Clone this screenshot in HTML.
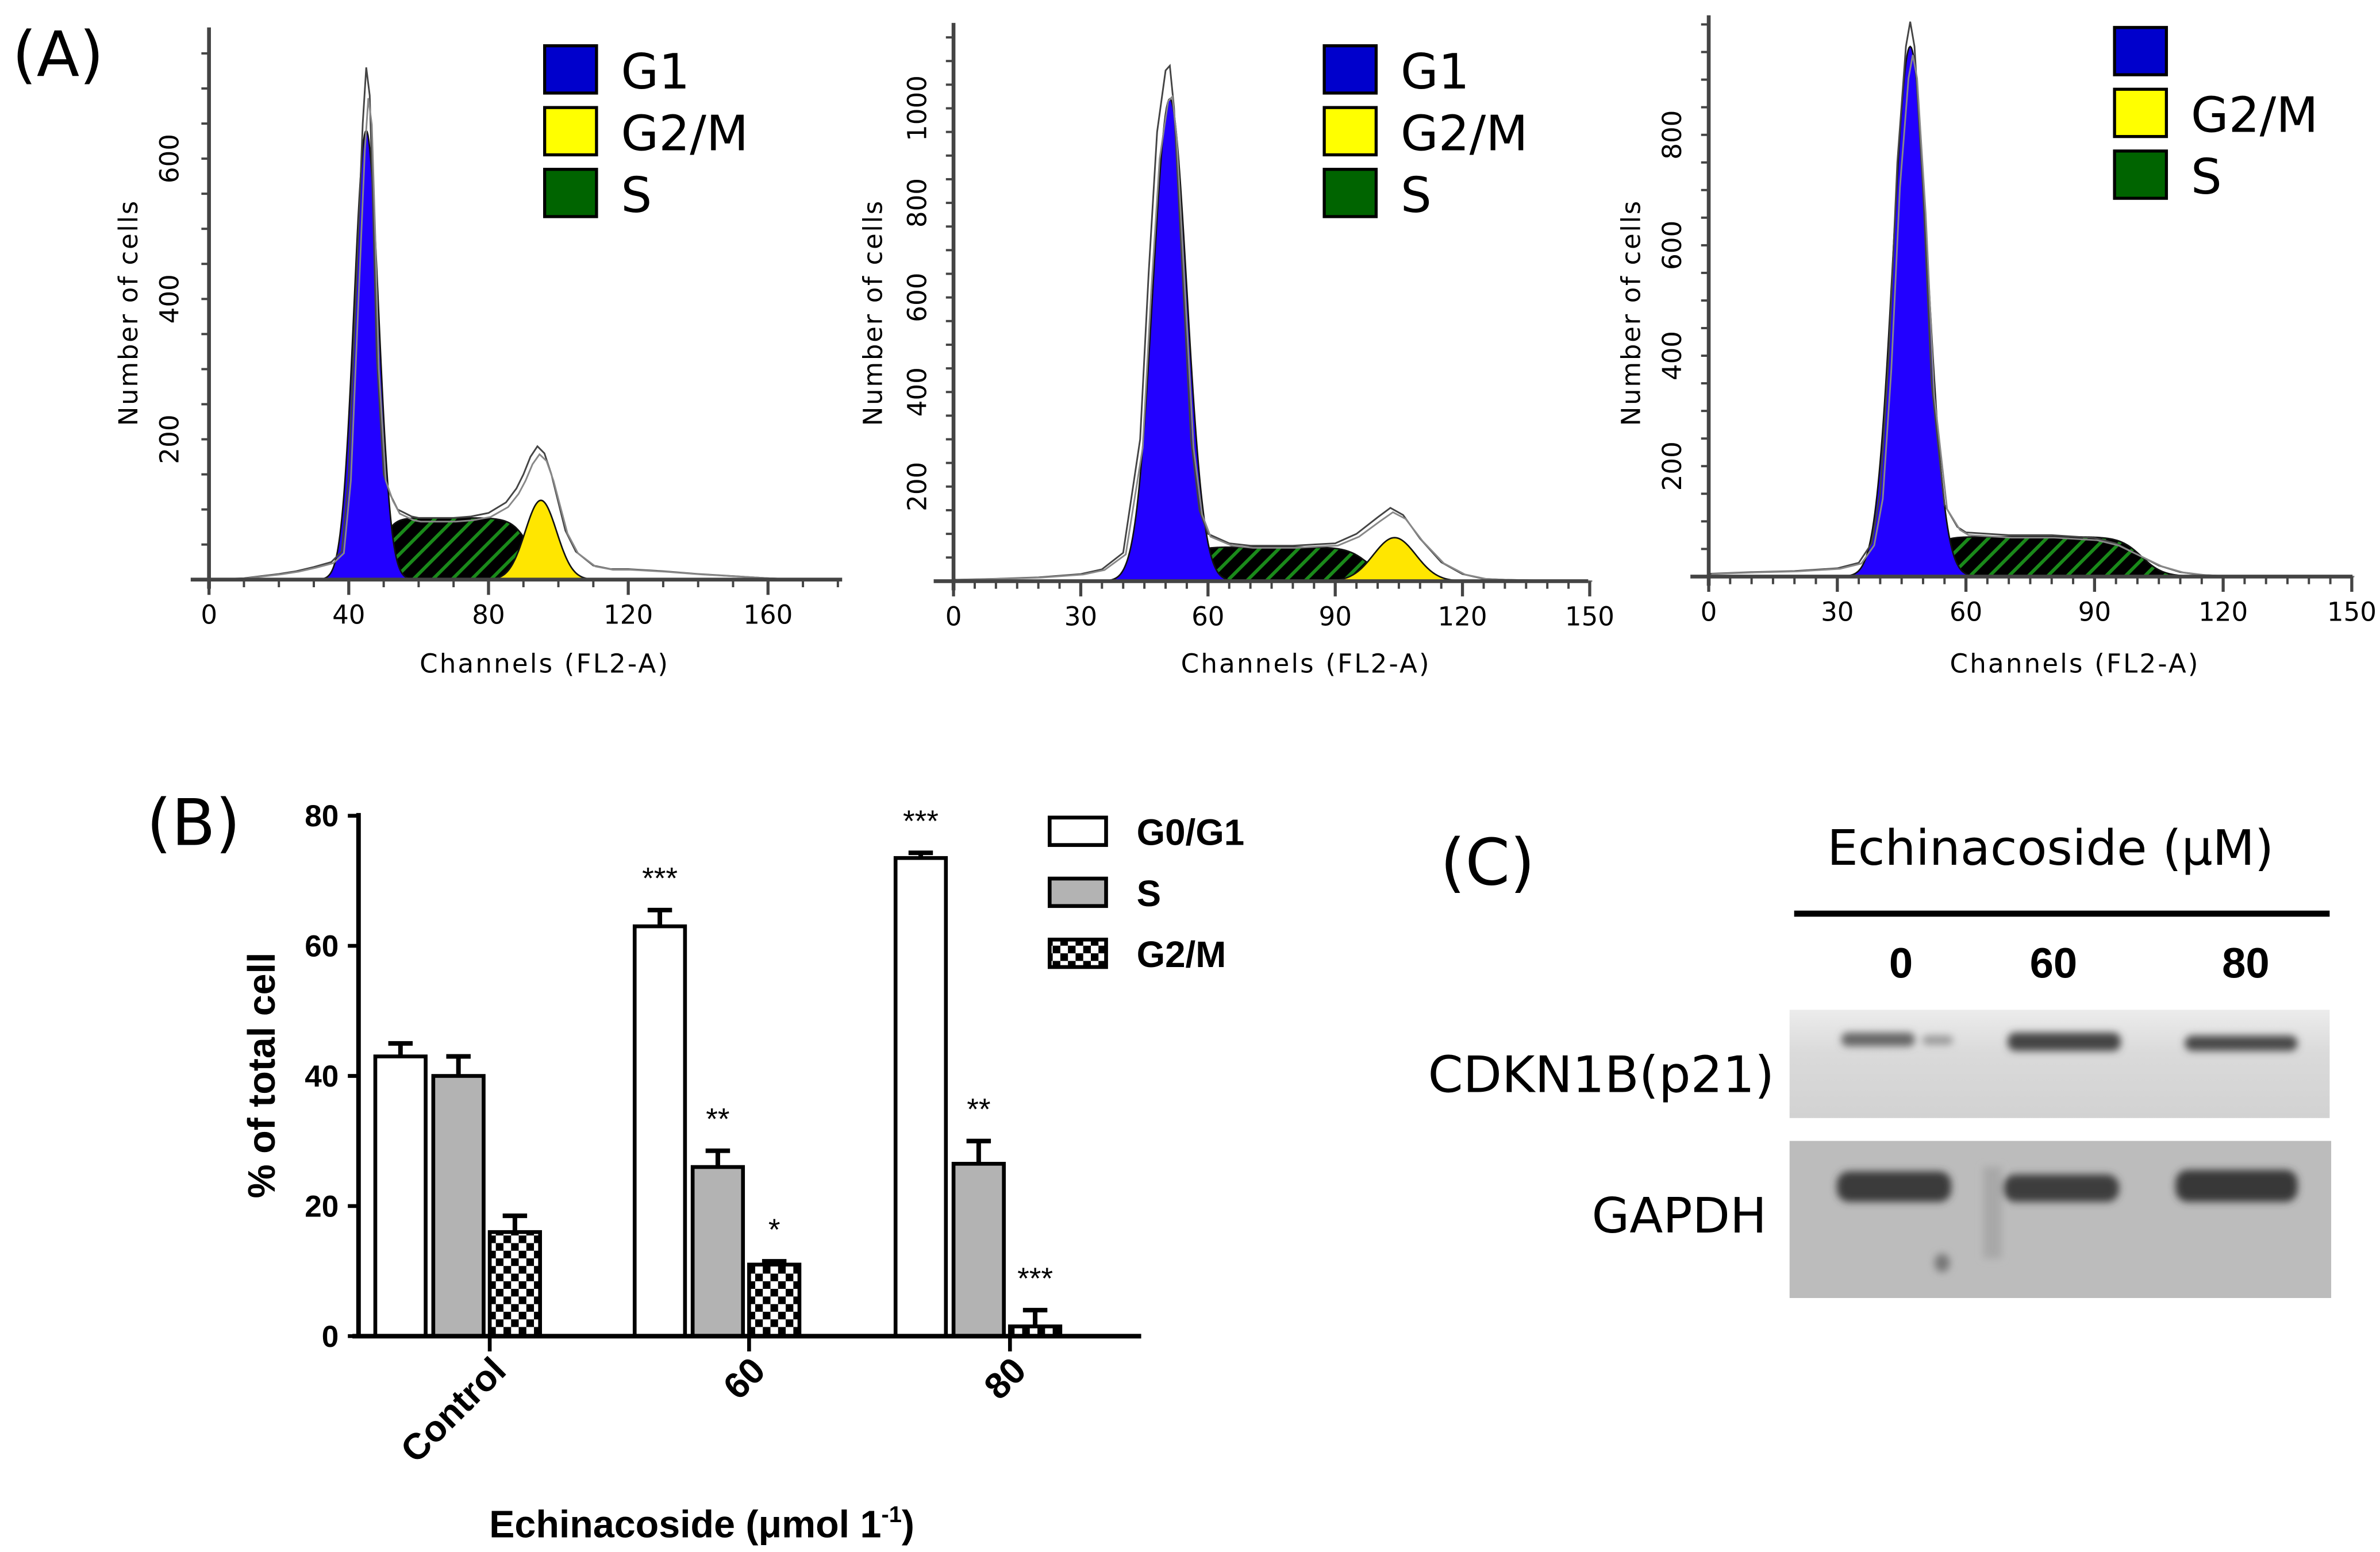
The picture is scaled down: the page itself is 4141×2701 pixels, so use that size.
<!DOCTYPE html>
<html><head><meta charset="utf-8"><style>
html,body{margin:0;padding:0;background:#fff}
svg{display:block}
.v{font-family:"DejaVu Sans","Liberation Sans",sans-serif}
.a{font-family:"Liberation Sans",Arial,sans-serif;font-weight:bold}
</style></head><body>
<svg id="fig" width="4141" height="2701" viewBox="0 0 1560 1017.5" xmlns="http://www.w3.org/2000/svg">
<defs>
<pattern id="hatch" width="9" height="9" patternUnits="userSpaceOnUse" patternTransform="rotate(45)">
<rect width="9" height="9" fill="#000"/><rect width="2.2" height="9" fill="#1a8a1a"/>
</pattern>
<filter id="blur" x="-20%" y="-50%" width="140%" height="200%"><feGaussianBlur stdDeviation="2.5"/></filter>
<linearGradient id="blot1" x1="0" y1="0" x2="0" y2="1"><stop offset="0" stop-color="#ececec"/><stop offset="0.4" stop-color="#dadada"/><stop offset="1" stop-color="#d2d2d2"/></linearGradient>
</defs>
<g id="histos"></g>

<text x="8" y="50" class="v" font-size="41" fill="#000">(A)</text>

<!-- Panel B -->
<g id="panelB"></g>
<text x="96" y="554" class="v" font-size="42">(B)</text>

<!-- Panel C -->
<g>
<text x="944" y="580" class="v" font-size="42">(C)</text>
<text x="1344" y="567" text-anchor="middle" class="v" font-size="32">Echinacoside (μM)</text>
<line x1="1176" y1="599" x2="1527" y2="599" stroke="#000" stroke-width="4"/>
<text x="1246" y="641" text-anchor="middle" class="a" font-size="28">0</text>
<text x="1346" y="641" text-anchor="middle" class="a" font-size="28">60</text>
<text x="1472" y="641" text-anchor="middle" class="a" font-size="28">80</text>
<rect x="1173" y="662" width="354" height="71" fill="url(#blot1)"/>
<g filter="url(#blur)">
<rect x="1207" y="677" width="48" height="9" rx="4" fill="#666"/><rect x="1260" y="679" width="20" height="6" rx="3" fill="#999"/>
<rect x="1316" y="677" width="74" height="12" rx="5" fill="#444"/>
<rect x="1432" y="679" width="74" height="10" rx="5" fill="#4a4a4a"/>
</g>
<rect x="1173" y="748" width="355" height="103" fill="#bcbcbc"/>
<g filter="url(#blur)">
<rect x="1204" y="768" width="75" height="20" rx="8" fill="#3a3a3a"/>
<rect x="1313" y="770" width="76" height="18" rx="8" fill="#3c3c3c"/>
<rect x="1426" y="767" width="80" height="21" rx="8" fill="#383838"/>
<ellipse cx="1273" cy="828" rx="5" ry="6" fill="#777"/>
<rect x="1300" y="765" width="12" height="60" fill="#a8a8a8"/>
</g>
<text x="1163" y="716" text-anchor="end" class="v" font-size="33">CDKN1B(p21)</text>
<text x="1158" y="808" text-anchor="end" class="v" font-size="32">GAPDH</text>
</g>

<script>
const NS='http://www.w3.org/2000/svg';
function mk(parent,tag,attrs,txt){const e=document.createElementNS(NS,tag);for(const k in attrs)e.setAttribute(k,attrs[k]);if(txt!==undefined)e.textContent=txt;parent.appendChild(e);return e;}

// ===== Panel A data =====
const p1RawCh=[0,10,15,20,25,30,35,38,40,42,44,45,46,47,48,50,52,54,56,58,60,65,70,75,80,85,88,90,92,94,96,98,100,102,105,110,115,120,130,140,150,160,170];
const p1RawCount=[0,2,5,8,12,18,25,40,150,400,650,730,690,520,320,150,120,100,95,90,88,88,88,90,95,110,130,150,175,190,180,150,110,70,40,20,15,15,12,8,5,2,0];
const p1G1=[45,3.5,640];
const p1S=[49,92,88];
const p1G2=[95,4.5,113];
const p1XTicks=[0,40,80,120,160];
const p1YTicks=[200,400,600];

const p2RawCh=[0,10,20,30,35,40,44,46,48,50,51,52,54,56,58,60,65,70,80,90,95,100,103,106,110,115,120,125,130,140,150];
const p2RawCount=[3,5,8,15,25,60,300,650,950,1080,1090,1000,650,300,150,100,80,75,75,80,100,135,155,140,90,40,15,5,3,1,0];
const p2G1=[51,4,1020];
const p2S=[54,98,72];
const p2G2=[104,5,92];
const p2XTicks=[0,30,60,90,120,150];
const p2YTicks=[200,400,600,800,1000];

const p3RawCh=[0,10,20,30,35,38,40,42,44,46,47,48,50,52,55,58,60,70,80,90,95,100,105,110,115,120,130,150];
const p3RawCount=[5,8,10,15,25,60,150,400,750,960,1005,960,700,350,130,90,80,75,75,70,60,40,20,8,3,1,0,0];
const p3G1=[47,4,960];
const p3S=[51,101,72];
const p3G2=[100,5,0];
const p3XTicks=[0,30,60,90,120,150];
const p3YTicks=[200,400,600,800];

const panels=[
 {raw:[p1RawCh,p1RawCount],g1:p1G1,s:p1S,g2:p1G2,xt:p1XTicks,yt:p1YTicks,x0:137,xs:2.29,y0:380,ys:0.46,top:18,xl:125,xr:552,minX:10,minY:50,legY:30,legX:357,labels:['G1','G2/M','S'],ylabX:90,ytX:117,xmax:180,xlc:357},
 {raw:[p2RawCh,p2RawCount],g1:p2G1,s:p2S,g2:p2G2,xt:p2XTicks,yt:p2YTicks,x0:625,xs:2.78,y0:381,ys:0.31,top:15,xl:612,xr:1041,minX:5,minY:50,legY:30,legX:868,labels:['G1','G2/M','S'],ylabX:578,ytX:607,xmax:150,xlc:856},
 {raw:[p3RawCh,p3RawCount],g1:p3G1,s:p3S,g2:p3G2,xt:p3XTicks,yt:p3YTicks,x0:1120,xs:2.81,y0:378,ys:0.362,top:10,xl:1108,xr:1542,minX:5,minY:50,legY:18,legX:1386,labels:['','G2/M','S'],ylabX:1075,ytX:1102,xmax:150,xlc:1360}
];
const gauss=(x,p)=>p[2]*Math.exp(-((x-p[0])**2)/(2*p[1]*p[1]));
const sig=z=>1/(1+Math.exp(-z));
const sfun=(x,p)=>p[2]*sig((x-p[0])/1.8)*sig((p[1]-x)/2.5);
const H=document.getElementById('histos');
panels.forEach((P,i)=>{
 const g=mk(H,'g',{});
 
 
 const X=c=>P.x0+c*P.xs, Y=v=>P.y0-v*P.ys;
 function area(f,name,fill,from,to){
   let d='M'+X(from)+','+Y(0);
   for(let c=from;c<=to;c+=0.25)d+=' L'+X(c).toFixed(2)+','+Y(f(c)).toFixed(2);
   d+=' L'+X(to)+','+Y(0)+'Z';
   const e=mk(g,'path',{d:d,fill:fill,stroke:'#111','stroke-width':1});
   
   
 }
 area(c=>sfun(c,P.s),'s-phase-area','url(#hatch)',P.s[0]-12,P.s[1]+12);
 area(c=>gauss(c,P.g1),'g1-peak','#2200ff',P.g1[0]-4*P.g1[1],P.g1[0]+4*P.g1[1]);
 if(P.g2[2]>0)area(c=>gauss(c,P.g2),'g2m-peak','#ffe600',P.g2[0]-4*P.g2[1],P.g2[0]+4*P.g2[1]);
 [0,1].forEach(k=>{
  let d='';
  P.raw[0].forEach((c,j)=>{d+=(j?' L':'M')+X(c+k*0.6).toFixed(2)+','+Y(P.raw[1][j]*(1-k*0.06)).toFixed(2);});
  const e=mk(g,'path',{d:d,fill:'none',stroke:k?'#888':'#444','stroke-width':1.1});
  
  
 });
 const ax=mk(g,'line',{x1:P.xl,y1:P.y0,x2:P.xr,y2:P.y0,stroke:'#444','stroke-width':2.5});
 
 
 const ay=mk(g,'line',{x1:P.x0,y1:P.top,x2:P.x0,y2:P.y0+6,stroke:'#444','stroke-width':2.5});
 
 
 for(let c=0;c<=P.xmax;c+=P.minX){mk(g,'line',{x1:X(c),y1:P.y0,x2:X(c),y2:P.y0+5,stroke:'#444','stroke-width':1.5});}
 P.xt.forEach(c=>{
  mk(g,'line',{x1:X(c),y1:P.y0,x2:X(c),y2:P.y0+10,stroke:'#444','stroke-width':2});
  const t=mk(g,'text',{x:X(c),y:P.y0+29,'text-anchor':'middle','font-size':17,'class':'v'},String(c));
  
  
 });
 for(let v=P.minY;Y(v)>P.top+3;v+=P.minY){mk(g,'line',{x1:P.x0-5,y1:Y(v),x2:P.x0,y2:Y(v),stroke:'#444','stroke-width':1.5});}
 P.yt.forEach(v=>{
  const t=mk(g,'text',{x:P.ytX,y:Y(v),'text-anchor':'middle','font-size':17,'class':'v',transform:'rotate(-90 '+P.ytX+' '+Y(v)+')'},String(v));
  
  
 });
 const yl=mk(g,'text',{x:P.ylabX,y:205,'text-anchor':'middle','font-size':17,'letter-spacing':1,'class':'v',transform:'rotate(-90 '+P.ylabX+' 205)'},'Number of cells');
 
 
 const xl=mk(g,'text',{x:P.xlc,y:441,'text-anchor':'middle','font-size':17,'letter-spacing':1.2,'class':'v'},'Channels (FL2-A)');
 
 
 const cols=['#0000cc','#ffff00','#006400'];
 P.labels.forEach((lb,k)=>{
  const r=mk(g,'rect',{x:P.legX,y:P.legY+k*40.5,width:34,height:31,fill:cols[k],stroke:'#000','stroke-width':2});
  
  
  const t=mk(g,'text',{x:P.legX+50,y:P.legY+k*40.5+28,'font-size':32,'class':'v'},lb);
  
  
 });
});

// ===== Panel B data =====
const groups=['Control','60','80'];
const g1Vals=[43,63,73.5];
const g1Err=[2,2.5,0.8];
const sVals=[40,26,26.5];
const sErr=[3,2.5,3.5];
const g2Vals=[16,11,1.5];
const g2Err=[2.5,0.5,2.5];
const g1Stars=['','***','***'];
const sStars=['','**','**'];
const g2Stars=['','*','***'];
const yTicksB=[0,20,40,60,80];

const B=document.getElementById('panelB');
const yB=v=>876-v*4.265;
const gx=[321,491,662];
const barW=33, off=[-75,-37,0];
const fills=['#fff','#b3b3b3','url(#check)'];
const defs=document.querySelector('defs');
const pat=mk(defs,'pattern',{id:'check',width:10,height:10,patternUnits:'userSpaceOnUse'});
mk(pat,'rect',{width:10,height:10,fill:'#fff'});
mk(pat,'rect',{x:0,y:0,width:5,height:5,fill:'#000'});
mk(pat,'rect',{x:5,y:5,width:5,height:5,fill:'#000'});
const series=[[g1Vals,g1Err,g1Stars,'g0g1'],[sVals,sErr,sStars,'s'],[g2Vals,g2Err,g2Stars,'g2m']];
series.forEach((S,k)=>{
 groups.forEach((gname,j)=>{
  const x=gx[j]+off[k], v=S[0][j], e=S[1][j];
  const eb=mk(B,'path',{d:'M'+(x+barW/2)+','+yB(v)+' V'+yB(v+e)+' M'+(x+barW/2-8)+','+yB(v+e)+' H'+(x+barW/2+8),stroke:'#000','stroke-width':3,fill:'none'});
  
  
  const r=mk(B,'rect',{x:x,y:yB(v),width:barW,height:yB(0)-yB(v),fill:fills[k],stroke:'#000','stroke-width':2.5});
  
  
  if(S[2][j]){
   const t=mk(B,'text',{x:x+barW/2,y:yB(v+e)-14,'text-anchor':'middle','font-size':20,'font-family':'Liberation Sans, sans-serif'},S[2][j]);
   
   
  }
 });
});
const bx=mk(B,'line',{x1:231,y1:876,x2:748,y2:876,stroke:'#000','stroke-width':3});


const by=mk(B,'line',{x1:235,y1:533,x2:235,y2:877,stroke:'#000','stroke-width':3});


yTicksB.forEach(v=>{
 mk(B,'line',{x1:228,y1:yB(v),x2:235,y2:yB(v),stroke:'#000','stroke-width':2.5});
 const t=mk(B,'text',{x:222,y:yB(v)+7,'text-anchor':'end','font-size':20,'class':'a'},String(v));
 
 
});
groups.forEach((gname,j)=>{
 mk(B,'line',{x1:gx[j],y1:876,x2:gx[j],y2:886,stroke:'#000','stroke-width':2.5});
 const tx=gx[j]+12, ty=900;
 const t=mk(B,'text',{x:tx,y:ty,'text-anchor':'end','font-size':24,'class':'a',transform:'rotate(-45 '+tx+' '+ty+')'},gname);
 
 
});
const yt=mk(B,'text',{x:180,y:705,'text-anchor':'middle','font-size':25,'class':'a',transform:'rotate(-90 180 705)'},'% of total cell');


const xt=mk(B,'text',{x:460,y:1008,'text-anchor':'middle','font-size':25,'class':'a'},'Echinacoside (μmol 1');


mk(xt,'tspan',{dy:-10,'font-size':15},'-1');
mk(xt,'tspan',{dy:10},')');
const legL=['G0/G1','S','G2/M'];
legL.forEach((l,k)=>{
 const r=mk(B,'rect',{x:688,y:536+k*40,width:37,height:18,fill:fills[k],stroke:'#000','stroke-width':2.5});
 
 
 const t=mk(B,'text',{x:745,y:554+k*40,'font-size':24,'class':'a'},l);
 
 
});
</script>
</svg>
</body></html>
